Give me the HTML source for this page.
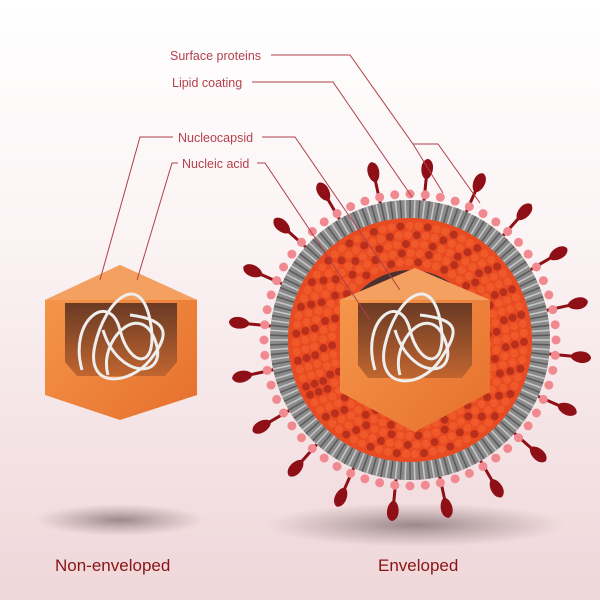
<!DOCTYPE html>
<html><head><meta charset="utf-8"><style>
html,body{margin:0;padding:0}
body{width:600px;height:600px;overflow:hidden;background:linear-gradient(#ffffff 0%,#fbf3f4 40%,#efd6d9 100%);font-family:"Liberation Sans",sans-serif}
svg{position:absolute;left:0;top:0}
</style></head><body>
<svg width="600" height="600" viewBox="0 0 600 600" id="s">
<defs>
<radialGradient id="sh"><stop offset="0" stop-color="#6a5a5c" stop-opacity=".65"/><stop offset="1" stop-color="#8a7073" stop-opacity="0"/></radialGradient>
<linearGradient id="ico" x1="0" y1="0" x2="1" y2="1"><stop offset="0" stop-color="#f79a4e"/><stop offset="1" stop-color="#e56f2c"/></linearGradient>
<linearGradient id="win" x1="0" y1="0" x2="0" y2="1"><stop offset="0" stop-color="#6a3a24"/><stop offset="1" stop-color="#c0652f"/></linearGradient>
</defs>
<ellipse cx="120" cy="520" rx="85" ry="16" fill="url(#sh)"/>
<ellipse cx="415" cy="525" rx="150" ry="22" fill="url(#sh)"/>
<g id="spk"></g>
<circle cx="410" cy="340" r="140" fill="#8a8a8a"/>
<g id="lip"></g>
<circle cx="410" cy="340" r="122" fill="#e84a22"/>
<g id="dots"></g>
<circle cx="410" cy="340" r="70" fill="#4a3030"/>
<polygon points="415,268 490,300 490,392 415,432 340,392 340,300" fill="url(#ico)"/>
<polygon points="340,300 415,268 490,300 415,300" fill="#f4a060"/>
<polygon points="358,303 472,303 472,365 462,378 368,378 358,365" fill="url(#win)"/>
<g fill="none" stroke="#eeeeee" stroke-width="3">
<path d="M375,370 C360,320 400,290 410,330 S450,370 440,320 S395,300 385,345 S420,390 440,360 S460,320 420,315"/>
<path d="M400,375 C390,340 430,300 445,340 S410,380 395,330"/>
</g>
<polygon points="120,265 197,300 197,395 120,420 45,395 45,300" fill="url(#ico)"/>
<polygon points="45,300 120,265 197,300 120,300" fill="#f4a060"/>
<polygon points="65,303 177,303 177,362 165,376 77,376 65,362" fill="url(#win)"/>
<g fill="none" stroke="#eeeeee" stroke-width="3">
<path d="M82,370 C68,320 110,290 120,330 S160,370 150,320 S105,300 95,345 S130,385 150,360 S170,320 130,315"/>
<path d="M108,375 C98,340 140,300 155,340 S118,380 103,330"/>
</g>
<g fill="none" stroke="#b0404a" stroke-width="1">
<polyline points="271,55 350,55 413,144 443,193"/>
<polyline points="413,144 438,144 480,203"/>
<polyline points="252,82 333,82 412,197"/>
<polyline points="173,137 140,137 100,280"/>
<polyline points="262,137 295,137 400,290"/>
<polyline points="178,163 172,163 137,280"/>
<polyline points="257,163 265,163 370,320"/>
</g>
<g font-size="12.5" fill="#b5414c">
<text x="170" y="60">Surface proteins</text>
<text x="172" y="87">Lipid coating</text>
<text x="178" y="142">Nucleocapsid</text>
<text x="182" y="168">Nucleic acid</text>
</g>
<g font-size="17" fill="#8a1414">
<text x="55" y="571">Non-enveloped</text>
<text x="378" y="571">Enveloped</text>
</g>
</svg>
<script>
var ns="http://www.w3.org/2000/svg",cx=410,cy=340;
function el(p,t,a){var e=document.createElementNS(ns,t);for(var k in a)e.setAttribute(k,a[k]);document.getElementById(p).appendChild(e);}
for(var i=0;i<20;i++){var a=i/20*2*Math.PI+0.1,d=a*180/Math.PI;
var g=document.createElementNS(ns,"g");g.setAttribute("transform","translate("+cx+","+cy+") rotate("+d+")");
g.innerHTML='<path d="M140,-1.5 L162,-1.5 C166,-7 180,-8 182,0 C180,8 166,7 162,1.5 L140,1.5Z" fill="#8e0f16"/>';
document.getElementById("spk").appendChild(g);}
for(var i=0;i<60;i++){var a=i/60*2*Math.PI,c=Math.cos(a),s=Math.sin(a);
el("spk","circle",{cx:cx+146*c,cy:cy+146*s,r:4.5,fill:"#f08a90"});}
for(var i=0;i<180;i++){var a=i/180*2*Math.PI,c=Math.cos(a),s=Math.sin(a);
el("lip","line",{x1:cx+122*c,y1:cy+122*s,x2:cx+140*c,y2:cy+140*s,stroke:i%2?"#5a5a5a":"#c8c8c8","stroke-width":1.5});}
for(var r=78;r<122;r+=9){var n=Math.floor(r*0.7);for(var i=0;i<n;i++){var a=(i+r*0.3)/n*2*Math.PI;
el("dots","circle",{cx:cx+r*Math.cos(a),cy:cy+r*Math.sin(a),r:4,fill:(i%3==0)?"#b8301c":"#f05a2a"});}}
</script>
</body></html>
